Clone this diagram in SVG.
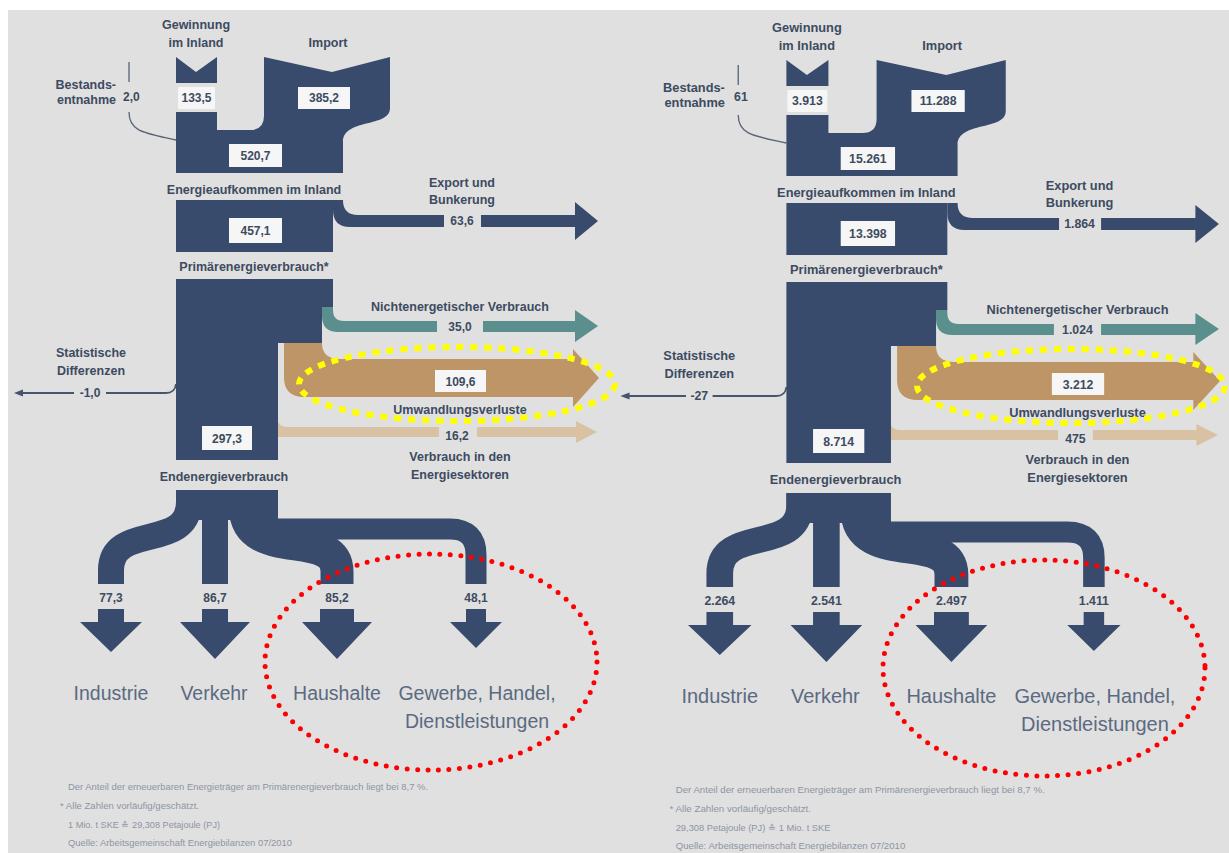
<svg xmlns="http://www.w3.org/2000/svg" width="1229" height="853" viewBox="0 0 1229 853">
<style>
.flow{fill:#384b6c}
.teal{fill:#5a8f8e}
.tan{fill:#bd9566}
.ltan{fill:#d9c2a3}
.br{fill:none;stroke:#384b6c}
.gap{fill:#e0e0e0}
.vbox{fill:#f6f6f6}
.t{font-family:"Liberation Sans",Arial,sans-serif;font-weight:bold;font-size:12.5px;fill:#3d4b60;text-anchor:middle}
.v{font-size:12px}
.cat{font-family:"Liberation Sans",Arial,sans-serif;font-size:19.5px;fill:#5b6a80;text-anchor:middle}
.fn{font-family:"Liberation Sans",Arial,sans-serif;font-size:9px;fill:#8d95a2}
.thin{fill:none;stroke:#5a6475;stroke-width:1.3}
.stat{fill:none;stroke:#46556b;stroke-width:1.8}
.yl{fill:none;stroke:#ffff00;stroke-width:6;stroke-dasharray:7 7}
.rd{fill:none;stroke:#ff0000;stroke-width:5;stroke-linecap:round;stroke-dasharray:0 10.5}
</style>
<rect x="8" y="10" width="1221" height="843" fill="#e0e0e0"/>

<!-- LEFT PANEL -->
<g id="left-panel">
  <g id="left-connectors">
    <path class="flow" d="M333,200 L343,200 Q343,215 358,215 L575,215 L575,202 L598,221 L575,240 L575,227 L350,227 Q333,227 333,210 Z"/>
    <rect class="gap" x="444" y="211" width="37" height="20"/>
    <path class="teal" d="M322,307 L333,307 L333,310 Q333,321 344,321 L575,321 L575,310 L598,326 L575,342 L575,332 L338,332 Q322,332 322,316 Z"/>
    <rect class="gap" x="437" y="318" width="46" height="17"/>
    <path class="tan" d="M284,343 L322,343 Q322,359 340,359 L573,359 L573,349 L599,378 L573,407 L573,397 L304,397 Q284,397 284,377 Z"/>
    <path class="ltan" d="M278,422 Q280,427 288,427 L576,427 L576,421 L597,432 L576,443 L576,437 L278,437 Z"/>
    <rect class="gap" x="439" y="424" width="38" height="16"/>
    <path class="br" stroke-width="26" d="M189,490 L189,502 C189,552 111,522 111,570 L111,584"/>
    <path class="br" stroke-width="26" d="M215,490 L215,584"/>
    <path class="br" stroke-width="33" d="M245,490 L245,505 C245,565 337,525 337,572 L337,584"/>
    <path class="br" stroke-width="21" d="M262,529 L450,529 Q476,529 476,555 L476,584"/>
    <path class="stat" d="M22,393 L74,393 M106,393 L166,393 Q175,393 176,384"/>
    <polygon points="14,393 23,389.5 23,396.5" fill="#46556b"/>
    <path class="thin" d="M129,62 L129,82 M129,112 C129,132 145,133 176,140"/>
  </g>
  <g id="left-node-gewinnung">
    <polygon class="flow" points="176,57 196,72 217,57 217,83 176,83"/>
    <text class="t" x="196" y="29">Gewinnung</text>
    <text class="t" x="196" y="47">im Inland</text>
    <rect class="vbox" x="178" y="87" width="37" height="22"/>
    <text class="t v" x="196.5" y="102">133,5</text>
  </g>
  <g id="left-node-bestand">
    <text class="t" x="116" y="89" style="text-anchor:end">Bestands-</text>
    <text class="t" x="116" y="104" style="text-anchor:end">entnahme</text>
    <text class="t v" x="123" y="101" style="text-anchor:start">2,0</text>
  </g>
  <g id="left-node-aufkommen">
    <path class="flow" d="M264,57 L332,72 L390,57 L390,108 C390,128 343,118 343,142 L343,173 L176,173 L176,112 L217,112 L217,130 L250,130 Q264,130 264,116 Z"/>
    <rect class="vbox" x="229" y="144" width="53" height="23"/>
    <text class="t v" x="255.5" y="160">520,7</text>
    <text class="t" x="254" y="194">Energieaufkommen im Inland</text>
  </g>
  <g id="left-node-import">
    <text class="t" x="328" y="47">Import</text>
    <rect class="vbox" x="298" y="87" width="52" height="22"/>
    <text class="t v" x="324" y="102">385,2</text>
  </g>
  <g id="left-node-primaer">
    <rect class="flow" x="176" y="200" width="157" height="52"/>
    <rect class="vbox" x="229" y="218" width="53" height="25"/>
    <text class="t v" x="255.5" y="235">457,1</text>
    <text class="t" x="254" y="271">Primärenergieverbrauch*</text>
  </g>
  <g id="left-node-export">
    <text class="t" x="462" y="187">Export und</text>
    <text class="t" x="462" y="204">Bunkerung</text>
    <text class="t v" x="462" y="225">63,6</text>
  </g>
  <g id="left-node-nichtenerg">
    <text class="t" x="460" y="311">Nichtenergetischer Verbrauch</text>
    <text class="t v" x="460" y="331">35,0</text>
  </g>
  <g id="left-node-statdiff">
    <text class="t" x="91" y="357">Statistische</text>
    <text class="t" x="91" y="375">Differenzen</text>
    <text class="t v" x="90" y="397">-1,0</text>
  </g>
  <g id="left-node-umwandlung">
    <rect class="vbox" x="435" y="370" width="51" height="22"/>
    <text class="t v" x="460.5" y="386">109,6</text>
    <text class="t" x="460" y="414">Umwandlungsverluste</text>
  </g>
  <g id="left-node-energiesektoren">
    <text class="t v" x="457" y="440">16,2</text>
    <text class="t" x="460" y="461">Verbrauch in den</text>
    <text class="t" x="460" y="479">Energiesektoren</text>
  </g>
  <g id="left-node-endenergie">
    <polygon class="flow" points="176,279 333,279 333,307 322,307 322,343 278,343 278,460 176,460"/>
    <rect class="vbox" x="202" y="426" width="50" height="24"/>
    <text class="t v" x="227" y="443">297,3</text>
    <text class="t" x="224" y="481">Endenergieverbrauch</text>
    <rect class="flow" x="176" y="490" width="102" height="30"/>
  </g>
  <g id="left-node-industrie">
    <text class="t v" x="111" y="602">77,3</text>
    <polygon class="flow" points="98,609 124,609 124,622 142,622 111,652 80,622 98,622"/>
    <text class="cat" x="111" y="700">Industrie</text>
  </g>
  <g id="left-node-verkehr">
    <text class="t v" x="215" y="602">86,7</text>
    <polygon class="flow" points="202,609 228,609 228,622 250,622 215,659 180,622 202,622"/>
    <text class="cat" x="214" y="700">Verkehr</text>
  </g>
  <g id="left-node-haushalte">
    <text class="t v" x="337" y="602">85,2</text>
    <polygon class="flow" points="320,609 354,609 354,622 372,622 337,659 302,622 320,622"/>
    <text class="cat" x="337" y="700">Haushalte</text>
  </g>
  <g id="left-node-gewerbe">
    <text class="t v" x="476" y="602">48,1</text>
    <polygon class="flow" points="466,609 486,609 486,622 502,622 476,648 450,622 466,622"/>
    <text class="cat" x="477" y="700">Gewerbe, Handel,</text>
    <text class="cat" x="477" y="728">Dienstleistungen</text>
  </g>
  <g id="left-footnotes">
    <text class="fn" x="68" y="790" textLength="360" lengthAdjust="spacingAndGlyphs">Der Anteil der erneuerbaren Energieträger am Primärenergieverbrauch liegt bei 8,7 %.</text>
    <text class="fn" x="60" y="809" textLength="139" lengthAdjust="spacingAndGlyphs">* Alle Zahlen vorläufig/geschätzt.</text>
    <text class="fn" x="68" y="828" textLength="152" lengthAdjust="spacingAndGlyphs">1 Mio. t SKE ≙ 29,308 Petajoule (PJ)</text>
    <text class="fn" x="68" y="846" textLength="224" lengthAdjust="spacingAndGlyphs">Quelle: Arbeitsgemeinschaft Energiebilanzen 07/2010</text>
  </g>
</g>

<!-- RIGHT PANEL -->
<g id="right-panel" transform="translate(606,3) scale(1.025,1)">
  <g id="right-connectors">
    <path class="flow" d="M333,200 L343,200 Q343,215 358,215 L575,215 L575,202 L598,221 L575,240 L575,227 L350,227 Q333,227 333,210 Z"/>
    <rect class="gap" x="442" y="211" width="41" height="20"/>
    <path class="teal" d="M322,307 L333,307 L333,310 Q333,321 344,321 L575,321 L575,310 L598,326 L575,342 L575,332 L338,332 Q322,332 322,316 Z"/>
    <rect class="gap" x="437" y="318" width="46" height="17"/>
    <path class="tan" d="M284,343 L322,343 Q322,359 340,359 L573,359 L573,349 L599,378 L573,407 L573,397 L304,397 Q284,397 284,377 Z"/>
    <path class="ltan" d="M278,422 Q280,427 288,427 L576,427 L576,421 L597,432 L576,443 L576,437 L278,437 Z"/>
    <rect class="gap" x="441" y="424" width="34" height="16"/>
    <path class="br" stroke-width="26" d="M189,490 L189,502 C189,552 111,522 111,570 L111,584"/>
    <path class="br" stroke-width="26" d="M215,490 L215,584"/>
    <path class="br" stroke-width="33" d="M245,490 L245,505 C245,565 337,525 337,572 L337,584"/>
    <path class="br" stroke-width="21" d="M262,529 L450,529 Q476,529 476,555 L476,584"/>
    <path class="stat" d="M22,393 L78,393 M104,393 L166,393 Q175,393 176,384"/>
    <polygon points="14,393 23,389.5 23,396.5" fill="#46556b"/>
    <path class="thin" d="M129,62 L129,82 M129,112 C129,132 145,133 176,140"/>
  </g>
  <g id="right-node-gewinnung">
    <polygon class="flow" points="176,57 196,72 217,57 217,83 176,83"/>
    <text class="t" x="196" y="29">Gewinnung</text>
    <text class="t" x="196" y="47">im Inland</text>
    <rect class="vbox" x="177" y="87" width="39" height="22"/>
    <text class="t v" x="196.5" y="102">3.913</text>
  </g>
  <g id="right-node-bestand">
    <text class="t" x="116" y="89" style="text-anchor:end">Bestands-</text>
    <text class="t" x="116" y="104" style="text-anchor:end">entnahme</text>
    <text class="t v" x="125" y="98" style="text-anchor:start">61</text>
  </g>
  <g id="right-node-aufkommen">
    <path class="flow" d="M264,57 L332,72 L390,57 L390,108 C390,128 343,118 343,142 L343,173 L176,173 L176,112 L217,112 L217,130 L250,130 Q264,130 264,116 Z"/>
    <rect class="vbox" x="229" y="144" width="53" height="23"/>
    <text class="t v" x="255.5" y="160">15.261</text>
    <text class="t" x="254" y="194">Energieaufkommen im Inland</text>
  </g>
  <g id="right-node-import">
    <text class="t" x="328" y="47">Import</text>
    <rect class="vbox" x="298" y="87" width="52" height="22"/>
    <text class="t v" x="324" y="102">11.288</text>
  </g>
  <g id="right-node-primaer">
    <rect class="flow" x="176" y="200" width="157" height="52"/>
    <rect class="vbox" x="229" y="218" width="53" height="25"/>
    <text class="t v" x="255.5" y="235">13.398</text>
    <text class="t" x="254" y="271">Primärenergieverbrauch*</text>
  </g>
  <g id="right-node-export">
    <text class="t" x="462" y="187">Export und</text>
    <text class="t" x="462" y="204">Bunkerung</text>
    <text class="t v" x="462" y="225">1.864</text>
  </g>
  <g id="right-node-nichtenerg">
    <text class="t" x="460" y="311">Nichtenergetischer Verbrauch</text>
    <text class="t v" x="460" y="331">1.024</text>
  </g>
  <g id="right-node-statdiff">
    <text class="t" x="91" y="357">Statistische</text>
    <text class="t" x="91" y="375">Differenzen</text>
    <text class="t v" x="91" y="397">-27</text>
  </g>
  <g id="right-node-umwandlung">
    <rect class="vbox" x="435" y="370" width="51" height="22"/>
    <text class="t v" x="460.5" y="386">3.212</text>
    <text class="t" x="460" y="414">Umwandlungsverluste</text>
  </g>
  <g id="right-node-energiesektoren">
    <text class="t v" x="458" y="440">475</text>
    <text class="t" x="460" y="461">Verbrauch in den</text>
    <text class="t" x="460" y="479">Energiesektoren</text>
  </g>
  <g id="right-node-endenergie">
    <polygon class="flow" points="176,279 333,279 333,307 322,307 322,343 278,343 278,460 176,460"/>
    <rect class="vbox" x="202" y="426" width="50" height="24"/>
    <text class="t v" x="227" y="443">8.714</text>
    <text class="t" x="224" y="481">Endenergieverbrauch</text>
    <rect class="flow" x="176" y="490" width="102" height="30"/>
  </g>
  <g id="right-node-industrie">
    <text class="t v" x="111" y="602">2.264</text>
    <polygon class="flow" points="98,609 124,609 124,622 142,622 111,652 80,622 98,622"/>
    <text class="cat" x="111" y="700">Industrie</text>
  </g>
  <g id="right-node-verkehr">
    <text class="t v" x="215" y="602">2.541</text>
    <polygon class="flow" points="202,609 228,609 228,622 250,622 215,659 180,622 202,622"/>
    <text class="cat" x="214" y="700">Verkehr</text>
  </g>
  <g id="right-node-haushalte">
    <text class="t v" x="337" y="602">2.497</text>
    <polygon class="flow" points="320,609 354,609 354,622 372,622 337,659 302,622 320,622"/>
    <text class="cat" x="337" y="700">Haushalte</text>
  </g>
  <g id="right-node-gewerbe">
    <text class="t v" x="476" y="602">1.411</text>
    <polygon class="flow" points="466,609 486,609 486,622 502,622 476,648 450,622 466,622"/>
    <text class="cat" x="477" y="700">Gewerbe, Handel,</text>
    <text class="cat" x="477" y="728">Dienstleistungen</text>
  </g>
  <g id="right-footnotes">
    <text class="fn" x="68" y="790" textLength="360" lengthAdjust="spacingAndGlyphs">Der Anteil der erneuerbaren Energieträger am Primärenergieverbrauch liegt bei 8,7 %.</text>
    <text class="fn" x="62" y="809" textLength="138" lengthAdjust="spacingAndGlyphs">* Alle Zahlen vorläufig/geschätzt.</text>
    <text class="fn" x="68" y="828" textLength="151" lengthAdjust="spacingAndGlyphs">29,308 Petajoule (PJ) ≙ 1 Mio. t SKE</text>
    <text class="fn" x="68" y="846" textLength="224" lengthAdjust="spacingAndGlyphs">Quelle: Arbeitsgemeinschaft Energiebilanzen 07/2010</text>
  </g>
</g>

<!-- ANNOTATION ELLIPSES -->
<g id="annotations">
  <ellipse class="yl" cx="457" cy="384" rx="158" ry="37"/>
  <ellipse class="yl" cx="1071" cy="386" rx="154" ry="37"/>
  <ellipse class="rd" cx="431" cy="662" rx="166" ry="108"/>
  <ellipse class="rd" cx="1044" cy="668" rx="161" ry="108"/>
</g>
</svg>
